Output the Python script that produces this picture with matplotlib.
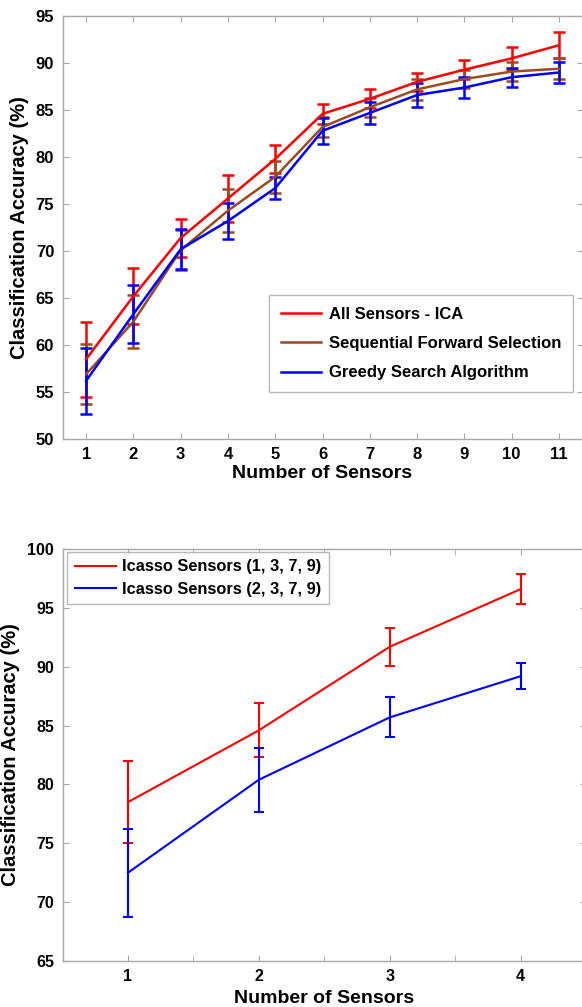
import numpy as np
import matplotlib
matplotlib.use("Agg")
import matplotlib.pyplot as plt
from matplotlib.ticker import MultipleLocator

plt.rcParams["font.family"] = ["Liberation Sans", "DejaVu Sans"]
plt.rcParams["font.weight"] = "bold"

# ── Data ──────────────────────────────────────────────────────────────────────

n_sensors = [1, 2, 3, 4, 5, 6, 7, 8, 9, 10, 11]

ica_mean = [58.5, 65.2, 71.4, 75.6, 79.8, 84.6, 86.2, 88.0, 89.3, 90.5, 91.9]
ica_err  = [4.0, 3.0, 2.0, 2.5, 1.5, 1.1, 1.0, 1.0, 1.0, 1.2, 1.4]

sfs_mean = [56.9, 62.5, 70.1, 74.3, 77.9, 83.2, 85.3, 87.2, 88.3, 89.1, 89.4]
sfs_err  = [3.2, 2.8, 2.1, 2.3, 1.7, 1.1, 1.0, 1.1, 1.0, 1.0, 1.1]

gsa_mean = [56.2, 63.3, 70.2, 73.2, 76.7, 82.8, 84.7, 86.6, 87.4, 88.5, 89.0]
gsa_err  = [3.5, 3.1, 2.1, 1.9, 1.2, 1.4, 1.2, 1.3, 1.1, 1.0, 1.1]

icasso_x = [1, 2, 3, 4]
icasso_a_mean = [78.5, 84.6, 91.7, 96.6]
icasso_a_err  = [3.5, 2.3, 1.6, 1.3]
icasso_b_mean = [72.5, 80.4, 85.7, 89.2]
icasso_b_err  = [3.75, 2.7, 1.7, 1.1]

RED   = "#ff0000"
BROWN = "#9c4a1f"
BLUE  = "#0000ff"
GREY  = "#a8a8a8"


def style_axes(ax, size):
    for sp in ax.spines.values():
        sp.set_color(GREY)
        sp.set_linewidth(1.0)
    ax.tick_params(which="both", direction="in", top=True, right=True,
                   color=GREY, labelsize=size, pad=6)
    ax.tick_params(which="both", length=4)
    for lbl in ax.get_xticklabels() + ax.get_yticklabels():
        lbl.set_fontweight("bold")


def line_legend(ax, **kw):
    # legend shows plain lines, not the errorbar glyphs
    h, l = ax.get_legend_handles_labels()
    leg = ax.legend([x[0] for x in h], l, fancybox=False, borderaxespad=0, **kw)
    leg.get_frame().set_edgecolor(GREY)
    for t in leg.get_texts():
        t.set_fontweight("bold")
    return leg


fig = plt.figure(figsize=(5.82, 10.07), dpi=100)

# ── Top: sensor selection comparison ─────────────────────────────────────────

ax1 = fig.add_axes([0.1074, 0.564, 0.8935, 0.42])
for m, e, c, lbl in [(ica_mean, ica_err, RED, "All Sensors - ICA"),
                     (sfs_mean, sfs_err, BROWN, "Sequential Forward Selection"),
                     (gsa_mean, gsa_err, BLUE, "Greedy Search Algorithm")]:
    ax1.errorbar(n_sensors, m, yerr=e, color=c, lw=1.8, elinewidth=1.8,
                 capsize=4.3, capthick=1.8, label=lbl)

ax1.set_xlim(0.5, 11.5)
ax1.set_ylim(50, 95)
ax1.set_xticks(n_sensors)
ax1.yaxis.set_major_locator(MultipleLocator(5))
style_axes(ax1, 12)
ax1.set_xlabel("Number of Sensors", fontsize=14, fontweight="bold", labelpad=2)
ax1.set_ylabel("Classification Accuracy (%)", fontsize=14.5, fontweight="bold",
               labelpad=5)
line_legend(ax1, loc="lower right", bbox_to_anchor=(0.982, 0.111),
            fontsize=12, handlelength=2.4, labelspacing=0.85, borderpad=0.7,
            handletextpad=0.5)

# ── Bottom: Icasso sensor sets ───────────────────────────────────────────────

ax2 = fig.add_axes([0.1074, 0.0457, 0.8995, 0.409])
ax2.errorbar(icasso_x, icasso_a_mean, yerr=icasso_a_err, color=RED, lw=1.5,
             elinewidth=1.5, capsize=3.6, capthick=1.5,
             label="Icasso Sensors (1, 3, 7, 9)")
ax2.errorbar(icasso_x, icasso_b_mean, yerr=icasso_b_err, color=BLUE, lw=1.5,
             elinewidth=1.5, capsize=3.6, capthick=1.5,
             label="Icasso Sensors (2, 3, 7, 9)")

ax2.set_xlim(0.5, 4.5)
ax2.set_ylim(65, 100)
ax2.set_xticks(icasso_x)
ax2.xaxis.set_minor_locator(MultipleLocator(0.5))
ax2.yaxis.set_major_locator(MultipleLocator(5))
style_axes(ax2, 11.5)
ax2.tick_params(axis="y", which="minor", left=False, right=False)
ax2.set_xlabel("Number of Sensors", fontsize=14, fontweight="bold", labelpad=4)
ax2.set_ylabel("Classification Accuracy (%)", fontsize=14.5, fontweight="bold",
               labelpad=5)
line_legend(ax2, loc="upper left", bbox_to_anchor=(0.009, 0.993),
            fontsize=11.8, handlelength=2.5, labelspacing=0.45, borderpad=0.45,
            handletextpad=0.4)

fig.savefig("out.png", dpi=100)
